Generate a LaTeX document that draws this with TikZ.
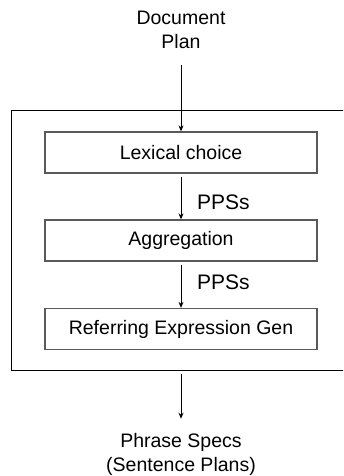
\documentclass[tikz,border=0pt]{standalone}
\usepackage{fontspec}
\setmainfont{Liberation Sans}
\usetikzlibrary{arrows.meta,calc}
\begin{document}
\begin{tikzpicture}[x=1bp,y=-1bp,
  stage/.style={draw=black!65, line width=1.3bp, minimum width=272bp,
    minimum height=41bp, inner sep=0pt, font=\fontsize{19.5bp}{24bp}\selectfont},
  frame/.style={draw=black, line width=1bp, inner sep=0pt},
  flow/.style={draw=black, line width=0.9bp, -{Stealth[length=6bp,width=5bp]}},
  note/.style={align=center, inner sep=0pt, font=\fontsize{19.5bp}{24bp}\selectfont},
  tag/.style={inner sep=0pt, anchor=west, font=\fontsize{21bp}{24bp}\selectfont}]
\useasboundingbox (0,0) rectangle (343,476);
\clip (0,0) rectangle (343,476);

% input and output texts
\node[note] (doc) at (181,30) {Document\\Plan};
\node[note] (out) at (181,454) {Phrase Specs\\(Sentence Plans)};

% microplanner frame (runs past the right edge)
\node[frame, minimum width=350bp, minimum height=259bp] (box) at (187,240.5) {};

% pipeline stages
\node[stage] (lex) at (181,152.5) {Lexical choice};
\node[stage] (agg) at (181,240.5) {Aggregation};
\node[stage] (reg) at (181,329) {Referring Expression Gen};

% intermediate data labels
\node[tag] (p1) at (197,202) {PPSs};
\node[tag] (p2) at (197,282) {PPSs};

% connectors
\draw[flow, shorten <=16bp] (doc) -- (lex);
\draw[flow, shorten <=3bp] (lex) -- (agg);
\draw[flow, shorten <=3bp] (agg) -- (reg);
\coordinate (exit) at (reg |- box.south);
\draw[flow, shorten <=3bp, shorten >=14bp] (exit) -- (out);
\end{tikzpicture}
\end{document}
